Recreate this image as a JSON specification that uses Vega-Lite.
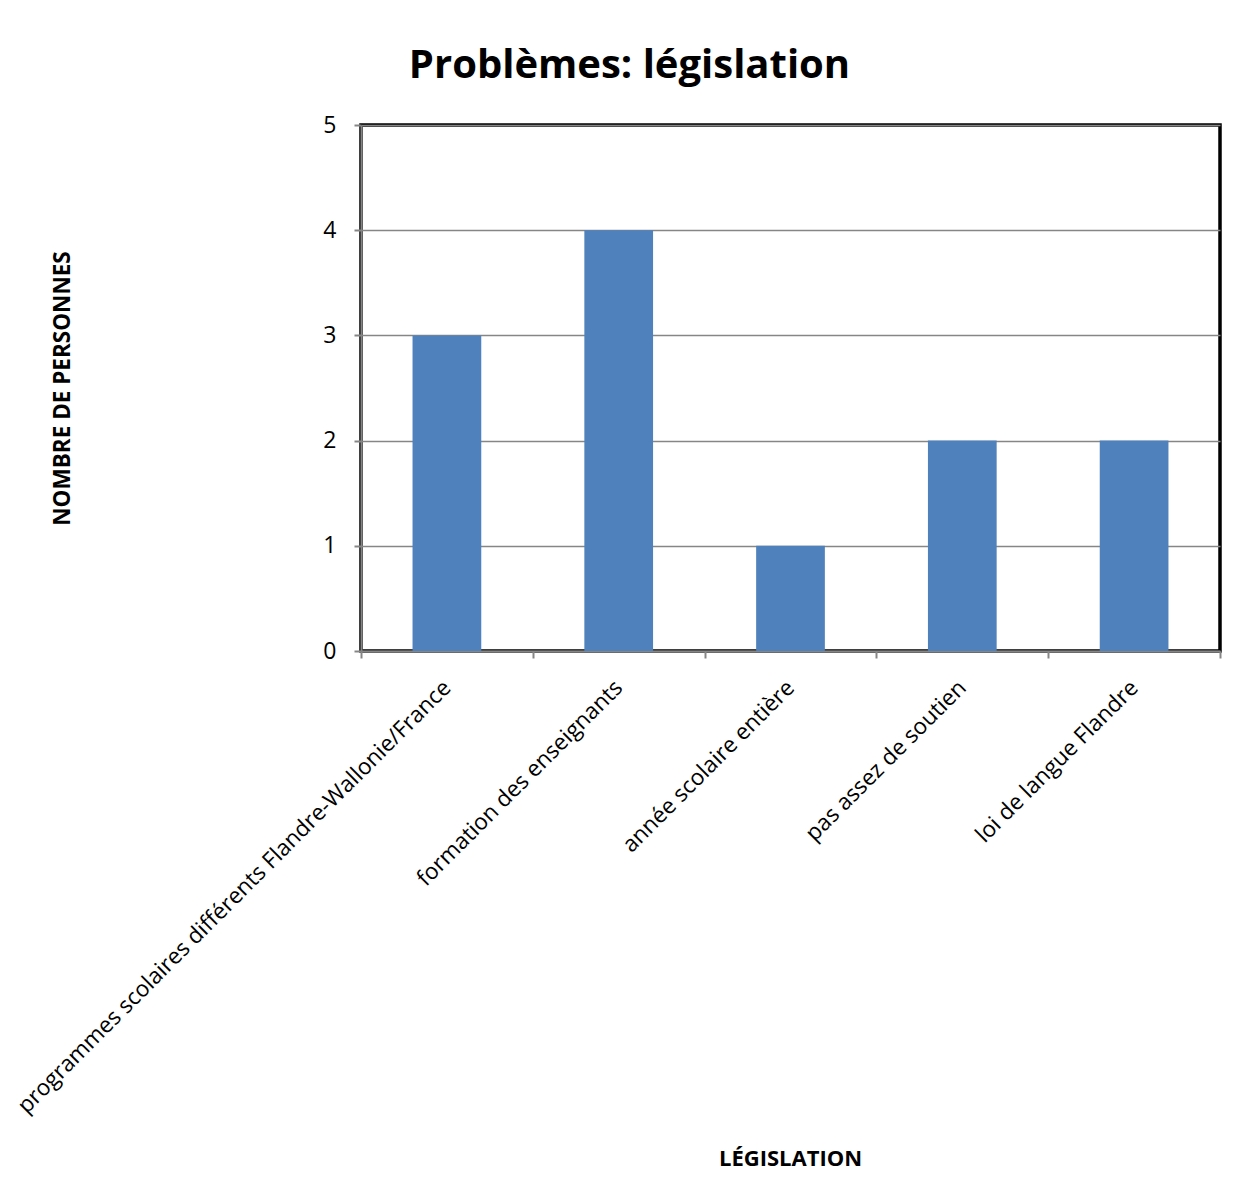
{
  "$schema": "https://vega.github.io/schema/vega-lite/v6.json",
  "autosize": "none",
  "width": 859,
  "height": 526,
  "padding": {"left": 361, "top": 125, "right": 20, "bottom": 549},
  "background": "white",
  "config": {
    "font": "Open Sans",
    "view": {"stroke": "black", "strokeWidth": 3.5}
  },
  "title": {
    "text": "Problèmes: législation",
    "fontSize": 40,
    "fontWeight": "bold",
    "font": "Open Sans",
    "color": "black",
    "anchor": "middle",
    "frame": "group",
    "dx": -161,
    "offset": 28
  },
  "data": {
    "values": [
      {"categorie": "programmes scolaires différents Flandre-Wallonie/France", "n": 3},
      {"categorie": "formation des enseignants", "n": 4},
      {"categorie": "année scolaire entière", "n": 1},
      {"categorie": "pas assez de soutien", "n": 2},
      {"categorie": "loi de langue Flandre", "n": 2}
    ]
  },
  "mark": {"type": "bar", "color": "#4F81BD", "width": {"band": 0.4}},
  "encoding": {
    "x": {
      "field": "categorie",
      "type": "nominal",
      "sort": null,
      "scale": {"paddingInner": 0, "paddingOuter": 0},
      "axis": {
        "title": "LÉGISLATION",
        "titleFontSize": 22,
        "titleFontWeight": "bold",
        "titleColor": "black",
        "titleX": 429,
        "titleY": 507,
        "titleBaseline": "middle",
        "titleAnchor": "middle",
        "labelAngle": -45,
        "labelFontSize": 22.5,
        "labelColor": "black",
        "labelPadding": 18,
        "labelOffset": -8,
        "labelLimit": 0,
        "labelOverlap": false,
        "tickBand": "extent",
        "tickColor": "#868686",
        "tickSize": 7,
        "tickWidth": 2,
        "domainColor": "#868686",
        "domainWidth": 2
      }
    },
    "y": {
      "field": "n",
      "type": "quantitative",
      "scale": {"domain": [0, 5], "nice": false},
      "axis": {
        "title": "NOMBRE DE PERSONNES",
        "titleFontSize": 22.5,
        "titleFontWeight": "bold",
        "titleColor": "black",
        "titleX": -299,
        "titleY": 263,
        "titleAngle": -90,
        "titleBaseline": "middle",
        "titleAnchor": "middle",
        "values": [0, 1, 2, 3, 4, 5],
        "labelFontSize": 23,
        "labelColor": "black",
        "labelPadding": 18,
        "tickColor": "#868686",
        "tickSize": 7,
        "tickWidth": 2,
        "domainColor": "#868686",
        "domainWidth": 2,
        "grid": true,
        "gridColor": "#868686",
        "gridWidth": 1.5
      }
    }
  }
}
